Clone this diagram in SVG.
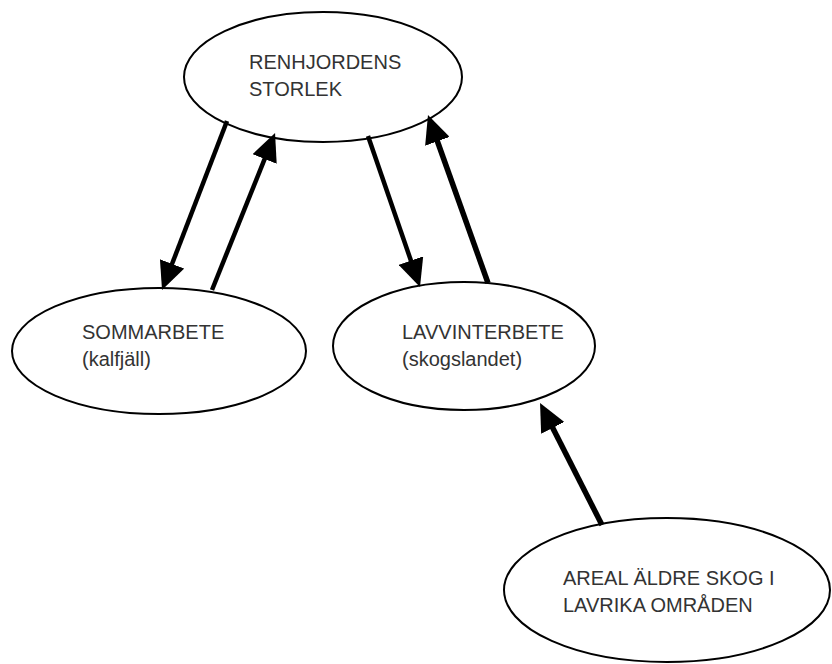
<svg xmlns="http://www.w3.org/2000/svg" width="832" height="664" viewBox="0 0 832 664">
<style>
.node ellipse{fill:#fff;stroke:#000;stroke-width:2}
.node text{font-family:"Liberation Sans",Arial,sans-serif;font-size:20px;fill:#333}
.conn line{stroke:#000;fill:none}
.thin{stroke-width:4.5}
.thick{stroke-width:5.5}
</style>
<defs>
<marker id="ah" markerUnits="userSpaceOnUse" markerWidth="28" markerHeight="26" viewBox="0 0 28 26" refX="8" refY="13" orient="auto">
<path d="M0,0 L28,13 L0,26 z" fill="#000"/>
</marker>
</defs>
<rect width="832" height="664" fill="#fff"/>
<g id="n-renhjord" class="node">
<ellipse cx="323" cy="77" rx="139" ry="65"/>
<text x="249" y="69">RENHJORDENS</text>
<text x="249" y="96">STORLEK</text>
</g>
<g id="n-sommarbete" class="node">
<ellipse cx="159" cy="351" rx="147" ry="63"/>
<text x="82" y="339">SOMMARBETE</text>
<text x="82" y="366">(kalfjäll)</text>
</g>
<g id="n-lavvinterbete" class="node">
<ellipse cx="464" cy="346" rx="131" ry="64"/>
<text x="402" y="339">LAVVINTERBETE</text>
<text x="402" y="366">(skogslandet)</text>
</g>
<g id="n-areal" class="node">
<ellipse cx="667" cy="590" rx="163" ry="72"/>
<text x="563" y="585">AREAL ÄLDRE SKOG I</text>
<text x="563" y="612">LAVRIKA OMRÅDEN</text>
</g>
<g id="connectors" class="conn">
<line class="thin" x1="227" y1="121" x2="169.2" y2="271.3" marker-end="url(#ah)"/>
<line class="thin" x1="212" y1="290" x2="267.6" y2="151.6" marker-end="url(#ah)"/>
<line class="thin" x1="368" y1="136" x2="413.5" y2="268.1" marker-end="url(#ah)"/>
<line class="thick" x1="488" y1="283" x2="434.7" y2="133.8" marker-end="url(#ah)"/>
<line class="thick" x1="602" y1="525" x2="549.1" y2="420.8" marker-end="url(#ah)"/>
</g>
</svg>
